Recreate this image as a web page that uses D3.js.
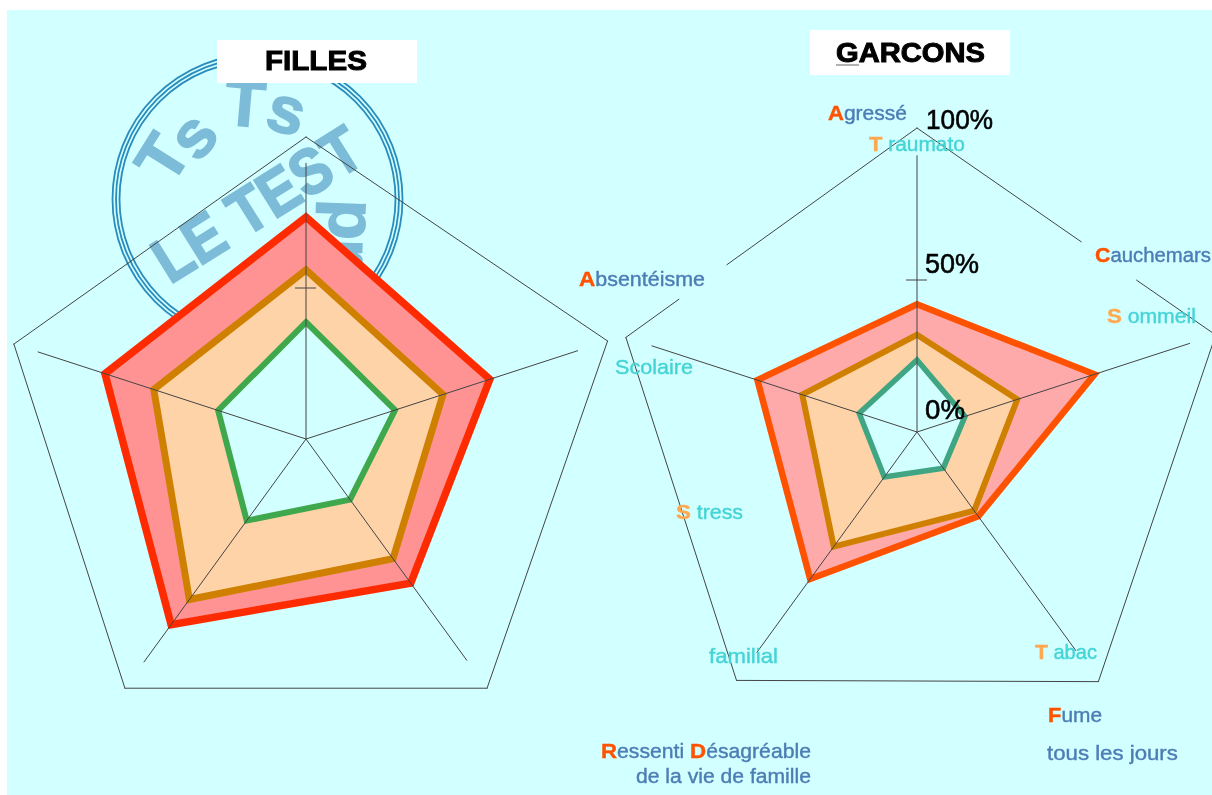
<!DOCTYPE html>
<html>
<head>
<meta charset="utf-8">
<script src="https://cdn.jsdelivr.net/npm/d3@7"></script>
<style>
  body { margin: 0; background: #fff; overflow: hidden; }
  text { font-family: "Liberation Sans", Arial, sans-serif; }
</style>
</head>
<body>
<div id="chart"></div>
<script>
// values in percent, clockwise from the top axis
const axisIndex = [0, 1, 2, 3, 4];

const fillesHaut = [73.5, 64, 59, 76, 70];
const fillesMilieu = [56, 47.7, 49, 65.7, 53];
const fillesBas = [38.7, 31, 24.8, 33.4, 30.6];
const fillesCadre = [100, 105, 102, 102, 101.7];
const fillesAxes = [91.4, 94.7, 90.7, 91.4, 93.4];

const garconsHaut = [42, 61.4, 34.3, 59.8, 55.2];
const garconsMilieu = [32, 34.7, 32, 46.6, 39.7];
const garconsBas = [23.7, 16.6, 14.7, 18.3, 20];
const garconsCadre = [100, 103.3, 101.5, 101, 100.7];
const garconsAxes = [91, 94.4, 89, 89.7, 91.8];

const tickLabels = ['100%', '50%', '0%'];
const stampRing = ['Ts', 'Ts', 'pr'];

let width = 1212,
    height = 795,
    bg = '#d2ffff',
    navy = '#4d7db5',
    cyan = '#45d4d6',
    peach = '#ffa84f',
    hot = '#ff5200';

let svg = d3.select('#chart').append('svg')
    .attr('width', width)
    .attr('height', height);

svg.append('defs').append('filter')
    .attr('id', 'soft')
    .append('feGaussianBlur')
    .attr('stdDeviation', 0.5);

svg.append('rect')
    .attr('x', 7)
    .attr('y', 10)
    .attr('width', width - 7)
    .attr('height', 785)
    .attr('fill', bg);

drawStamp(svg.append('g').attr('filter', 'url(#soft)'));

// the percent scale is slightly different on each side
let rFilles = d3.scaleLinear().domain([0, 100]).range([0, 302]);
let rGarcons = d3.scaleLinear().domain([0, 100]).range([0, 304]);

drawRadar(svg.append('g').attr('transform', 'translate(306, 439)'), rFilles, {
    series: [
        {values: fillesHaut, fill: '#ff9393', stroke: '#ff2b00', sw: 7.5},
        {values: fillesMilieu, fill: '#ffd3a8', stroke: '#d08000', sw: 7},
        {values: fillesBas, fill: bg, stroke: '#3fa84c', sw: 6}
    ],
    frame: fillesCadre,
    axes: fillesAxes,
    gaps: []
});

// frame edges are cut where the labels sit
drawRadar(svg.append('g').attr('transform', 'translate(917, 432)'), rGarcons, {
    series: [
        {values: garconsHaut, fill: '#ffaaaa', stroke: '#ff5200', sw: 6.5},
        {values: garconsMilieu, fill: '#ffd3a8', stroke: '#d08000', sw: 6},
        {values: garconsBas, fill: bg, stroke: '#3fa582', sw: 5.5}
    ],
    frame: garconsCadre,
    axes: garconsAxes,
    gaps: [[0, 0.55, 0.735], [4, 0.182, 0.347]]
});

function polar(r, i) {
    const a = i * 2 * Math.PI / axisIndex.length;
    return [r * Math.sin(a), -r * Math.cos(a)];
}

function drawRadar(g, r, opt) {
    const line = d3.line();

    g.selectAll('path.area')
        .data(opt.series)
        .join('path')
        .attr('class', 'area')
        .attr('d', d => line(d.values.map((v, i) => polar(r(v), i))) + 'Z')
        .attr('fill', d => d.fill)
        .attr('stroke', d => d.stroke)
        .attr('stroke-width', d => d.sw)
        .attr('stroke-linejoin', 'miter');

    g.selectAll('line.axis')
        .data(opt.axes)
        .join('line')
        .attr('class', 'axis')
        .attr('x2', (d, i) => polar(r(d), i)[0])
        .attr('y2', (d, i) => polar(r(d), i)[1])
        .attr('stroke', '#444')
        .attr('stroke-width', 1);

    g.append('line')
        .attr('x1', -11)
        .attr('x2', 10)
        .attr('y1', -r(50))
        .attr('y2', -r(50))
        .attr('stroke', '#444');

    // outer pentagon, split into pieces around the gaps
    const pts = opt.frame.map((v, i) => polar(r(v), i));
    let pieces = [];
    pts.forEach((p, i) => {
        const q = pts[(i + 1) % pts.length];
        const at = t => [p[0] + (q[0] - p[0]) * t, p[1] + (q[1] - p[1]) * t];
        const gap = opt.gaps.find(d => d[0] === i);
        if (gap) {
            pieces.push([p, at(gap[1])], [at(gap[2]), q]);
        } else {
            pieces.push([p, q]);
        }
    });

    g.selectAll('path.frame')
        .data(pieces)
        .join('path')
        .attr('class', 'frame')
        .attr('d', line)
        .attr('fill', 'none')
        .attr('stroke', '#444')
        .attr('stroke-width', 1)
        .attr('stroke-linecap', 'round');
}

function drawStamp(g) {
    const cx = 257.5, cy = 199;

    g.selectAll('circle')
        .data([145, 141.5, 138])
        .join('circle')
        .attr('cx', cx)
        .attr('cy', cy)
        .attr('r', d => d)
        .attr('fill', 'none')
        .attr('stroke', '#2a8cbc')
        .attr('stroke-width', 1.8);

    const letter = (txt, x, y, rot, size) => g.append('text')
        .attr('transform', `translate(${x}, ${y}) rotate(${rot})`)
        .attr('text-anchor', 'middle')
        .attr('dy', '0.35em')
        .attr('font-size', size)
        .attr('font-weight', 'bold')
        .attr('fill', '#7dbcd8')
        .attr('stroke', '#7dbcd8')
        .attr('stroke-width', 1.5)
        .text(txt);

    letter(stampRing[0][0], 162, 158, -58, 66);
    letter(stampRing[0][1], 192, 135, -50, 66);
    letter(stampRing[1][0], 245, 103, 5, 66);
    letter(stampRing[1][1], 287, 110, 15, 66);
    letter(stampRing[2][0], 353, 220, 92, 66);
    letter(stampRing[2][1], 350, 252, 92, 66);

    const big = letter('LE TEST', 0, 0, 0, 64);
    big.attr('stroke-width', 2);
    const k = 233 / big.node().getComputedTextLength();
    big.attr('transform', `translate(257, 204) rotate(-32) scale(${k}, 1)`);
}

// squeeze or stretch a text to the width it has in the picture
function fit(t, x, y, w) {
    const k = w / t.node().getComputedTextLength();
    t.attr('transform', `translate(${x}, ${y}) scale(${k}, 1)`);
    return t;
}

// titles
function title(x, y, w, h, tx, ty, tw, txt) {
    svg.append('rect').attr('x', x).attr('y', y).attr('width', w).attr('height', h).attr('fill', '#fff');
    const t = svg.append('text')
        .attr('font-size', 28)
        .attr('font-weight', 'bold')
        .attr('stroke', '#000')
        .attr('stroke-width', 1)
        .attr('filter', 'url(#soft)')
        .text(txt);
    fit(t, tx, ty, tw);
}

title(217, 40, 200, 43, 265, 70, 102, 'FILLES');
title(810, 30, 200, 45, 836, 62, 149, 'GARCONS');
svg.append('line')
    .attr('x1', 836).attr('x2', 859)
    .attr('y1', 65).attr('y2', 65)
    .attr('stroke', '#666').attr('stroke-width', 1);

// scale numbers on the garcons chart
let labels = svg.append('g').attr('filter', 'url(#soft)');

labels.selectAll('text.tick')
    .data(tickLabels)
    .join('text')
    .attr('class', 'tick')
    .attr('font-size', 28)
    .attr('fill', '#000')
    .attr('stroke', '#000')
    .attr('stroke-width', 0.6)
    .text(d => d)
    .each(function (d, i) {
        fit(d3.select(this), [926, 925, 925][i], [129, 273, 419][i], [67, 54, 40][i]);
    });

// label: coloured initial, then the rest
function label(x, y, w, initial, rest, colInitial, colRest, more) {
    const t = labels.append('text')
        .attr('font-size', 20)
        .attr('fill', colRest)
        .attr('stroke', colRest)
        .attr('stroke-width', 0.4);
    const cap = txt => t.append('tspan')
        .attr('fill', colInitial)
        .attr('stroke', colInitial)
        .attr('font-weight', 'bold')
        .attr('font-size', 21)
        .text(txt);
    if (initial) cap(initial);
    t.append('tspan').text(rest);
    if (more) {
        cap(more[0]);
        t.append('tspan').text(more[1]);
    }
    fit(t, x, y, w);
}

label(828, 120, 79, 'A', 'gressé', hot, navy);
label(869, 151, 96, 'T', ' raumato', peach, cyan);
label(1095, 262, 116, 'C', 'auchemars', hot, navy);
label(1107, 323, 89, 'S', ' ommeil', peach, cyan);
label(579, 286, 126, 'A', 'bsentéisme', hot, navy);
label(615, 374, 78, '', 'Scolaire', peach, cyan);
label(676, 519, 67, 'S', ' tress', peach, cyan);
label(709, 663, 69, '', 'familial', peach, cyan);
label(1035, 659, 62, 'T', ' abac', peach, cyan);
label(1048, 722, 54, 'F', 'ume', hot, navy);
label(1047, 760, 131, '', 'tous les jours', hot, navy);
label(601, 758, 210, 'R', 'essenti ', hot, navy, ['D', 'ésagréable']);
label(636, 783, 175, '', 'de la vie de famille', hot, navy);
</script>
</body>
</html>
